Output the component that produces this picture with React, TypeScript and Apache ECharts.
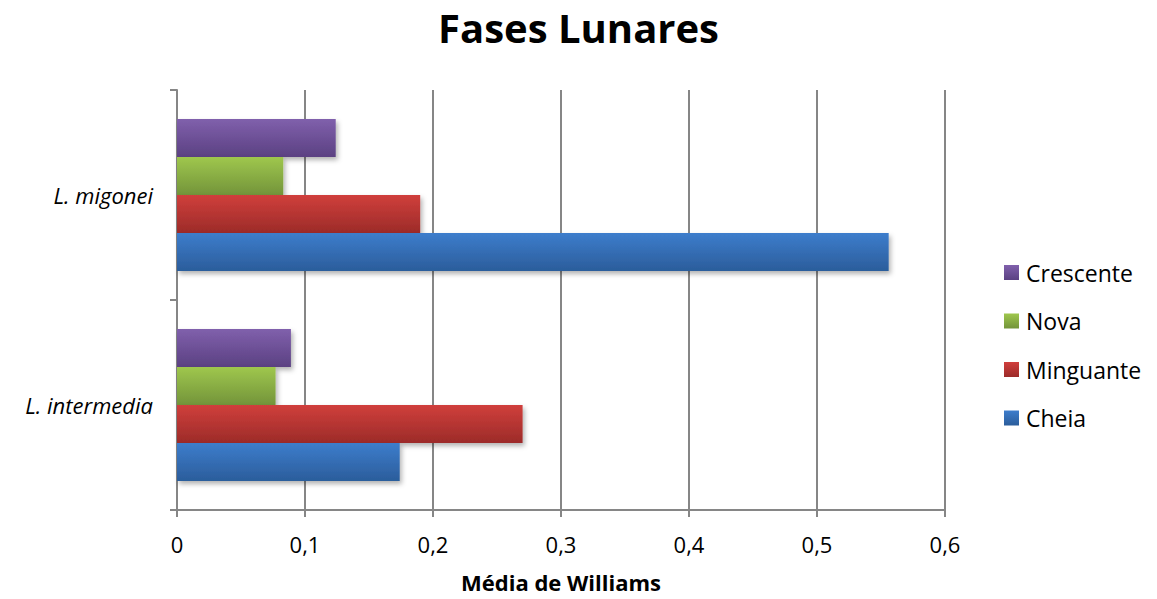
import React, { useEffect, useRef } from "react";
import * as echarts from "echarts";

const categories = ["L. intermedia", "L. migonei"];
// Listed top-to-bottom within each category group
const seriesNames = ["Crescente", "Nova", "Minguante", "Cheia"];
const crescente = [0.089, 0.124];
const nova = [0.077, 0.083];
const minguante = [0.27, 0.19];
const cheia = [0.174, 0.556];
const xTicks = [0, 0.1, 0.2, 0.3, 0.4, 0.5, 0.6];

const colors: [string, string][] = [
  ["#8060ac", "#5b4182"],
  ["#9fc74d", "#73943a"],
  ["#d03f3c", "#9c2b29"],
  ["#3d7dcc", "#2b5d9b"],
];

const FONT = "'Open Sans', sans-serif";

export default function App() {
  const ref = useRef<HTMLDivElement>(null);
  useEffect(() => {
    if (!ref.current) return;
    const chart = echarts.init(ref.current, null, { renderer: "svg" });
    const values = [crescente, nova, minguante, cheia];
    chart.setOption({
      animation: false,
      backgroundColor: "#ffffff",
      title: {
        text: "Fases Lunares",
        left: "center",
        top: 2,
        textStyle: { fontFamily: FONT, fontSize: 40, fontWeight: "bold", color: "#000" },
      },
      legend: {
        orient: "vertical",
        left: 1004,
        top: 261,
        padding: 0,
        itemWidth: 15,
        itemHeight: 15,
        itemGap: 25.5,
        icon: "rect",
        data: ["Crescente", "Nova", "Minguante", "Cheia"],
        textStyle: { fontFamily: FONT, fontSize: 23, color: "#000", padding: [0, 0, 0, 2] },
      },
      grid: {
        left: 177,
        right: 212,
        top: 90,
        bottom: 89,
        containLabel: false,
        outerBoundsMode: "none",
      },
      xAxis: {
        type: "value",
        min: 0,
        max: 0.6,
        interval: 0.1,
        name: "Média de Williams",
        nameLocation: "middle",
        nameGap: 61,
        nameTextStyle: { fontFamily: FONT, fontSize: 22, fontWeight: "bold", color: "#000" },
        axisLine: { show: true, lineStyle: { color: "#868686", width: 2 } },
        axisTick: { show: true, length: 7, lineStyle: { color: "#868686", width: 2 } },
        axisLabel: {
          fontFamily: FONT,
          fontSize: 22,
          color: "#000",
          margin: 23,
          formatter: (v: number) => {
            const t = xTicks.find((x) => Math.abs(x - v) < 1e-9);
            return t === undefined ? "" : String(t).replace(".", ",");
          },
        },
        splitLine: { show: true, lineStyle: { color: "#868686", width: 2 } },
      },
      yAxis: {
        type: "category",
        data: categories,
        axisLine: { show: true, lineStyle: { color: "#868686", width: 2 } },
        axisTick: { show: true, length: 7, lineStyle: { color: "#868686", width: 2 } },
        axisLabel: { fontFamily: FONT, fontSize: 22, fontStyle: "italic", color: "#000", margin: 24 },
      },
      series: seriesNames.map((name, i) => ({
        name,
        type: "bar",
        data: values[i],
        barGap: "0%",
        barCategoryGap: "27.6%",
        itemStyle: {
          color: new echarts.graphic.LinearGradient(0, 0, 0, 1, [
            { offset: 0, color: colors[i][0] },
            { offset: 1, color: colors[i][1] },
          ]),
          shadowColor: "rgba(0,0,0,0.3)",
          shadowBlur: 5,
          shadowOffsetX: 2,
          shadowOffsetY: 3,
        },
      })),
    });
    return () => chart.dispose();
  }, []);
  return (
    <div
      ref={ref}
      style={{ position: "absolute", left: 0, top: 0, width: 1157, height: 599 }}
    />
  );
}
